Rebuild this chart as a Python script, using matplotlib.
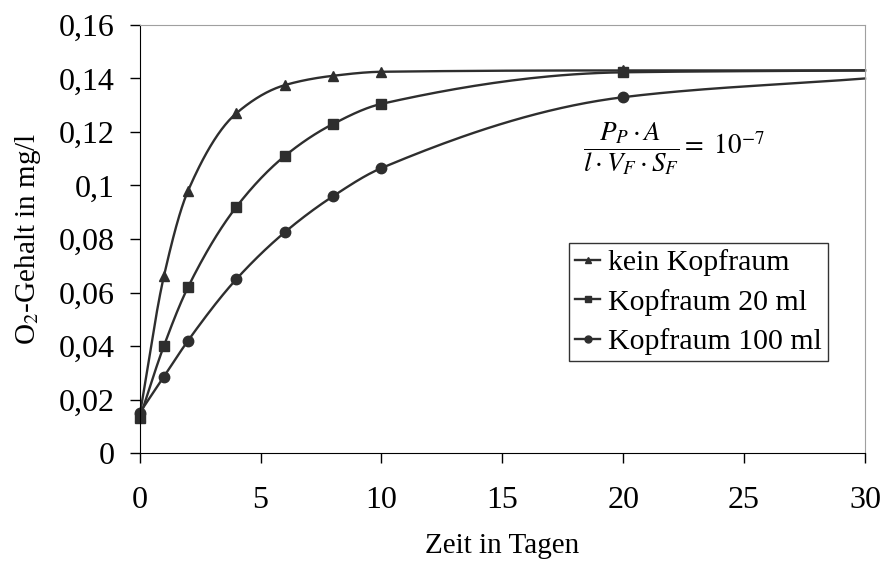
import numpy as np
import matplotlib
matplotlib.use("Agg")
import matplotlib.pyplot as plt

plt.rcParams["font.family"] = ["Liberation Serif", "DejaVu Serif"]
plt.rcParams["mathtext.fontset"] = "stix"

tage = [0, 1, 2, 4, 6, 8, 10, 20, 30]
kein_kopfraum = [0.014, 0.066, 0.098, 0.127, 0.1375, 0.141, 0.1425, 0.143, 0.143]
kopfraum_20 = [0.013, 0.040, 0.062, 0.092, 0.111, 0.123, 0.1305, 0.1423, 0.143]
kopfraum_100 = [0.015, 0.0285, 0.042, 0.065, 0.0825, 0.096, 0.1065, 0.133, 0.140]

labels = ["kein Kopfraum", "Kopfraum 20 ml", "Kopfraum 100 ml"]
markers = ["^", "s", "o"]


def smooth(x, y, n=40):
    # monotone kubische Interpolation (Fritsch-Carlson) fuer die glatten Linien
    x = np.asarray(x, float)
    y = np.asarray(y, float)
    h = np.diff(x)
    d = np.diff(y) / h
    m = np.zeros_like(y)
    m[0], m[-1] = d[0], d[-1]
    for i in range(1, len(x) - 1):
        if d[i - 1] * d[i] > 0:
            w1 = 2 * h[i] + h[i - 1]
            w2 = h[i] + 2 * h[i - 1]
            m[i] = (w1 + w2) / (w1 / d[i - 1] + w2 / d[i])
    xs, ys = [], []
    t = np.linspace(0, 1, n)
    for i in range(len(x) - 1):
        h00 = 2 * t ** 3 - 3 * t ** 2 + 1
        h10 = t ** 3 - 2 * t ** 2 + t
        h01 = -2 * t ** 3 + 3 * t ** 2
        h11 = t ** 3 - t ** 2
        xs.append(x[i] + t * h[i])
        ys.append(h00 * y[i] + h10 * h[i] * m[i] + h01 * y[i + 1] + h11 * h[i] * m[i + 1])
    return np.concatenate(xs), np.concatenate(ys)


fig = plt.figure(figsize=(8.84, 5.67), dpi=100)
ax = fig.add_axes([0.158, 0.201, 0.8205, 0.755])

color = "#2e2e2e"
for ys, m, lab in zip([kein_kopfraum, kopfraum_20, kopfraum_100], markers, labels):
    sx, sy = smooth(tage, ys)
    ax.plot(sx, sy, color=color, linewidth=1.7, clip_on=False)
    ax.plot(tage[:-1], ys[:-1], linestyle="none", marker=m, color=color,
            markersize=7.5 if m != "s" else 7, clip_on=False)
    ax.plot([], [], color=color, linewidth=1.7, marker=m, markersize=5, label=lab)

ax.set_xlim(0, 30)
ax.set_ylim(0, 0.16)
ax.set_xticks(range(0, 31, 5))
ax.set_yticks(np.arange(0, 0.161, 0.02))
ax.set_yticklabels(["0", "0,02", "0,04", "0,06", "0,08", "0,1", "0,12", "0,14", "0,16"])
ax.tick_params(direction="out", length=7, width=1, labelsize=23)
ax.tick_params(axis="y", pad=11)
ax.tick_params(axis="x", pad=17)

for side in ("top", "right"):
    ax.spines[side].set_color("#a0a0a0")
for side in ("left", "bottom"):
    ax.spines[side].set_color("black")

ax.set_xlabel("Zeit in Tagen", fontsize=21, labelpad=13)
ax.set_ylabel(r"O$_2$-Gehalt in mg/l", fontsize=21, labelpad=11)

ax.text(0.611, 0.71, r"$\dfrac{P_P \cdot A}{l \cdot V_F \cdot S_F} = \ 10^{-7}$",
        transform=ax.transAxes, fontsize=19.5, color="black", va="center")

leg = ax.legend(loc="upper left", bbox_to_anchor=(0.592, 0.49), fontsize=21.5,
                frameon=True, fancybox=False, edgecolor="black",
                handlelength=0.85, handletextpad=0.25, borderpad=0.2,
                labelspacing=0.42, borderaxespad=0)
leg.get_frame().set_linewidth(1)

fig.savefig("out.png", dpi=100)
